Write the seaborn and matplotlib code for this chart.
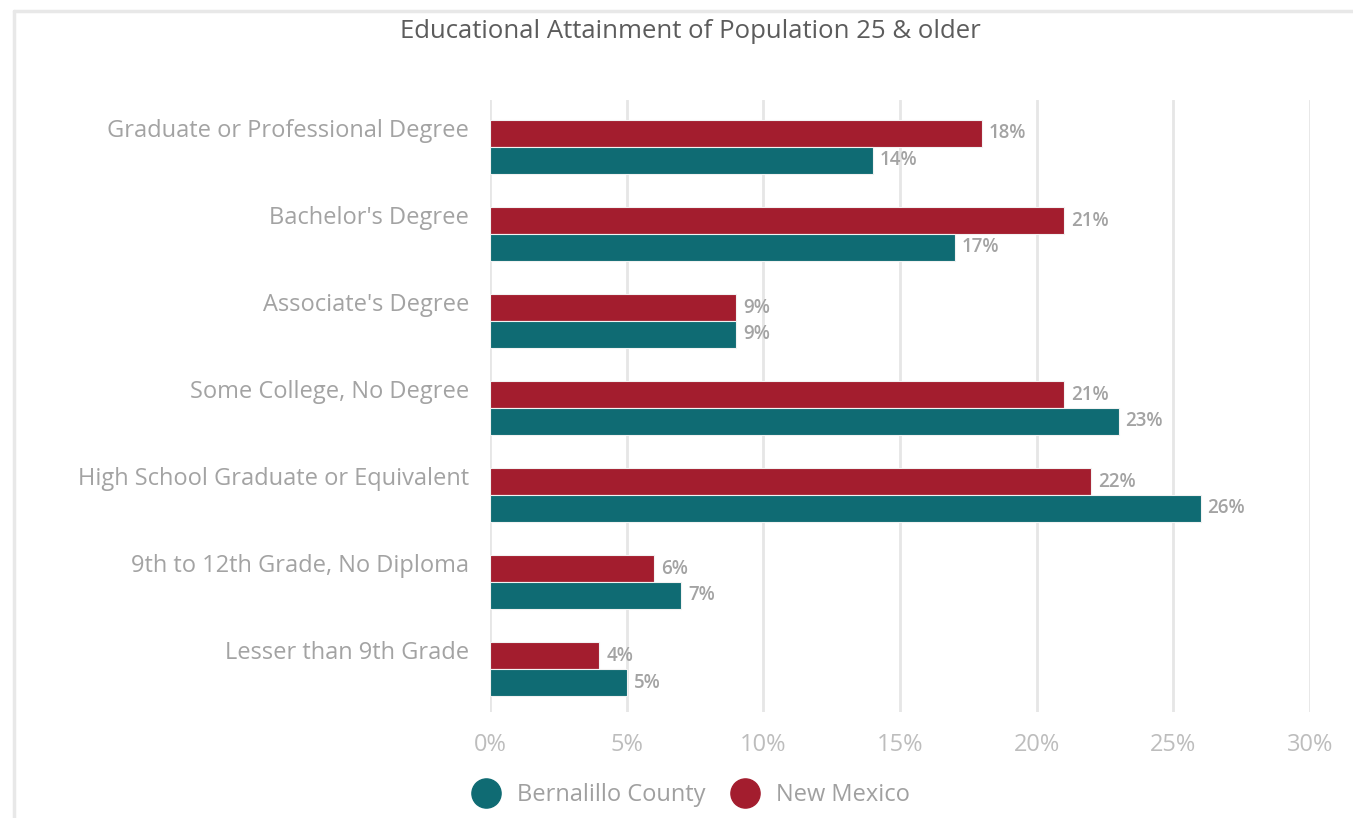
import matplotlib
matplotlib.use("Agg")
import matplotlib.pyplot as plt
from matplotlib.lines import Line2D
from matplotlib.transforms import ScaledTranslation
import seaborn as sns
import pandas as pd

categories = [
    "Graduate or Professional Degree",
    "Bachelor's Degree",
    "Associate's Degree",
    "Some College, No Degree",
    "High School Graduate or Equivalent",
    "9th to 12th Grade, No Diploma",
    "Lesser than 9th Grade",
]
new_mexico = [18, 21, 9, 21, 22, 6, 4]
bernalillo = [14, 17, 9, 23, 26, 7, 5]
series_names = ["Bernalillo County", "New Mexico"]
x_ticks = [0, 5, 10, 15, 20, 25, 30]
x_tick_labels = ["0%", "5%", "10%", "15%", "20%", "25%", "30%"]

RED = "#A31D2E"
TEAL = "#0F6B73"
LABEL_GRAY = "#A3A3A3"
TICK_GRAY = "#BDBDBD"

df = pd.DataFrame({
    "category": categories * 2,
    "series": ["New Mexico"] * len(categories) + ["Bernalillo County"] * len(categories),
    "value": new_mexico + bernalillo,
})

sns.set_theme(style="white")
plt.rcParams["font.family"] = ["Open Sans", "DejaVu Sans"]

fig = plt.figure(figsize=(13.53, 8.18), dpi=100)
ax = fig.add_axes([490 / 1353, 1 - 712 / 818, 820 / 1353, 612 / 818])

sns.barplot(
    data=df, y="category", x="value", hue="series",
    hue_order=["New Mexico", "Bernalillo County"],
    palette={"New Mexico": RED, "Bernalillo County": TEAL},
    order=categories, width=0.62, orient="h", ax=ax, saturation=1,
    edgecolor="#f2f2f2", linewidth=0.8, legend=False, zorder=3,
)

for container in ax.containers:
    ax.bar_label(container, labels=[f"{v:.0f}%" for v in container.datavalues],
                 padding=5, color="#A3A3A3", fontsize=13.5, fontweight="semibold")

ax.set_xlim(0, 30)
ax.set_ylim(6.494, -0.540)
ax.set_xticks(x_ticks)
ax.set_xticklabels(x_tick_labels)
ax.xaxis.grid(True, color="#E6E6E6", linewidth=2, zorder=0)
ax.set_axisbelow(True)
for s in ax.spines.values():
    s.set_visible(False)
ax.set_xlabel("")
ax.set_ylabel("")
ax.tick_params(axis="x", length=0, pad=15, labelsize=17, labelcolor=TICK_GRAY)
ax.tick_params(axis="y", length=0, pad=15, labelsize=17, labelcolor=LABEL_GRAY)
for lab in ax.get_yticklabels():
    lab.set_transform(lab.get_transform() + ScaledTranslation(0, 19 / 100, fig.dpi_scale_trans))

fig.text(690 / 1353, 1 - 31 / 818, "Educational Attainment of Population 25 & older",
         ha="center", va="center", fontsize=18.5, color="#5C5C5C")

# legend with round markers
handles = [
    Line2D([], [], marker="o", linestyle="", markersize=21, color=TEAL),
    Line2D([], [], marker="o", linestyle="", markersize=21, color=RED),
]
fig.legend(handles, series_names, loc="center", bbox_to_anchor=(692 / 1353, 1 - 795 / 818),
           ncol=2, frameon=False, fontsize=17, labelcolor="#A0A0A0",
           handlelength=1.0, handletextpad=0.8, columnspacing=1.2)

# outer panel edge
fig.add_artist(Line2D([14 / 1353, 1], [1 - 11 / 818, 1 - 11 / 818], color="#E8E8E8", linewidth=2.5))
fig.add_artist(Line2D([14 / 1353, 14 / 1353], [0, 1 - 11 / 818], color="#E8E8E8", linewidth=2.5))

fig.savefig("out.png", dpi=100, facecolor="white")
